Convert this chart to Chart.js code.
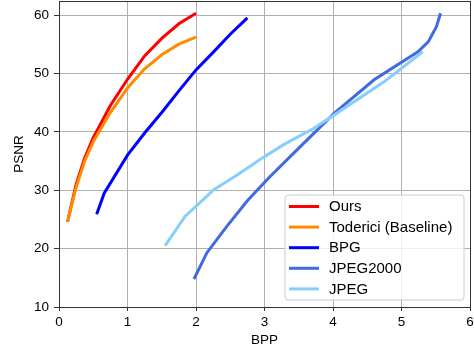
<!DOCTYPE html>
<html>
<head>
<meta charset="utf-8">
<script src="https://cdn.jsdelivr.net/npm/chart.js@4.4.1/dist/chart.umd.min.js"></script>
<style>
  body { margin: 0; background: #fff; }
  #wrap { width: 474px; height: 349px; }
</style>
</head>
<body>
<div id="wrap"><canvas id="myChart" width="474" height="349"></canvas></div>
<script>
// Data ------------------------------------------------------------>
const seriesNames = ['Ours', 'Toderici (Baseline)', 'BPG', 'JPEG2000', 'JPEG'];
const seriesColors = ['#ff0000', '#ff8c00', '#0000ff', '#4169e1', '#87cefa'];

const oursX = [0.125, 0.25, 0.375, 0.5, 0.75, 1.0, 1.25, 1.5, 1.75, 2.0];
const oursY = [24.6, 31.0, 35.5, 39.0, 44.5, 49.0, 53.0, 56.0, 58.5, 60.3];

const todericiX = [0.125, 0.25, 0.375, 0.5, 0.75, 1.0, 1.25, 1.5, 1.75, 2.0];
const todericiY = [24.6, 30.5, 35.0, 38.3, 43.3, 47.5, 50.8, 53.2, 55.0, 56.2];

const bpgX = [0.55, 0.66, 1.0, 1.25, 1.5, 1.75, 2.0, 2.25, 2.5, 2.75];
const bpgY = [25.9, 29.5, 36.0, 39.8, 43.3, 47.0, 50.6, 53.6, 56.7, 59.5];

const jp2kX = [1.97, 2.16, 2.45, 2.75, 3.06, 3.5, 4.02, 4.6, 5.24, 5.39, 5.51, 5.57];
const jp2kY = [14.8, 19.3, 23.8, 28.2, 32.1, 37.2, 43.2, 48.9, 53.7, 55.4, 58.0, 60.3];

const jpegX = [1.55, 1.84, 2.26, 2.6, 2.94, 3.28, 3.72, 4.02, 4.75, 5.31];
const jpegY = [20.5, 25.5, 30.1, 32.6, 35.3, 37.8, 40.6, 42.9, 48.6, 53.7];

const xTicks = [0, 1, 2, 3, 4, 5, 6];
const yTicks = [10, 20, 30, 40, 50, 60];

// Chart JS Start-------------------------------------->
const allX = [oursX, todericiX, bpgX, jp2kX, jpegX];
const allY = [oursY, todericiY, bpgY, jp2kY, jpegY];

const datasets = seriesNames.map((name, i) => ({
  label: name,
  data: allX[i].map((x, j) => ({ x: x, y: allY[i][j] })),
  borderColor: seriesColors[i],
  backgroundColor: seriesColors[i],
  borderWidth: 3,
  pointRadius: 0,
  showLine: true,
  tension: 0,
  order: seriesNames.length - i,
}));

const FONT = 'Liberation Sans';

// box around the axes + legend inside the plot
const framePlugin = {
  id: 'frame',
  afterDraw(chart) {
    const c = chart.ctx;
    const a = chart.chartArea;
    c.save();
    c.strokeStyle = '#333';
    c.lineWidth = 1;
    c.strokeRect(Math.round(a.left) + 0.5, Math.round(a.top) + 0.5,
      Math.round(a.right - a.left), Math.round(a.bottom - a.top));

    // legend
    const bx = a.right - 185, by = a.bottom - 112, bw = 179, bh = 105, r = 3;
    c.beginPath();
    c.moveTo(bx + r, by);
    c.arcTo(bx + bw, by, bx + bw, by + bh, r);
    c.arcTo(bx + bw, by + bh, bx, by + bh, r);
    c.arcTo(bx, by + bh, bx, by, r);
    c.arcTo(bx, by, bx + bw, by, r);
    c.closePath();
    c.fillStyle = 'rgba(255,255,255,0.8)';
    c.fill();
    c.strokeStyle = '#cccccc';
    c.stroke();

    c.font = '15px "' + FONT + '"';
    c.textBaseline = 'middle';
    c.fillStyle = '#000';
    chart.data.datasets.forEach((ds, i) => {
      const yy = by + 11.5 + i * 20.6;
      c.strokeStyle = ds.borderColor;
      c.lineWidth = 3;
      c.beginPath();
      c.moveTo(bx + 4, yy);
      c.lineTo(bx + 34, yy);
      c.stroke();
      c.fillText(ds.label, bx + 44, yy + 0.5);
    });
    c.restore();
  }
};

const ctx = document.getElementById('myChart');

new Chart(ctx, {
  type: 'scatter',
  data: { datasets: datasets },
  plugins: [framePlugin],
  options: {
    responsive: false,
    animation: false,
    layout: { padding: { top: 1, right: 4, left: 0, bottom: 0 } },
    plugins: {
      legend: { display: false },
      tooltip: { enabled: false }
    },
    scales: {
      x: {
        type: 'linear',
        min: 0,
        max: 6,
        afterBuildTicks: s => { s.ticks = xTicks.map(v => ({ value: v })); },
        afterFit: s => { s.height = 42; s.paddingLeft = 0; s.paddingRight = 0; },
        ticks: {
          color: '#000',
          padding: 3,
          maxRotation: 0,
          font: { family: FONT, size: 13.5 }
        },
        grid: { color: '#b0b0b0', lineWidth: 1, tickColor: '#333', tickLength: 4 },
        border: { color: '#333', width: 1 },
        title: {
          display: true,
          text: 'BPP',
          color: '#000',
          padding: { top: 2, bottom: 1 },
          font: { family: FONT, size: 13.5 }
        }
      },
      y: {
        type: 'linear',
        min: 10,
        max: 62.4,
        afterBuildTicks: s => { s.ticks = yTicks.map(v => ({ value: v })); },
        afterFit: s => { s.width = 59; s.paddingTop = 0; s.paddingBottom = 0; },
        ticks: {
          color: '#000',
          padding: 5,
          font: { family: FONT, size: 13.5 }
        },
        grid: { color: '#b0b0b0', lineWidth: 1, tickColor: '#333', tickLength: 5 },
        border: { color: '#333', width: 1 },
        title: {
          display: true,
          text: 'PSNR',
          color: '#000',
          padding: { top: 11, bottom: 4 },
          font: { family: FONT, size: 13.5 }
        }
      }
    }
  }
});
// Chart JS End-------------------------------------->
</script>
</body>
</html>
